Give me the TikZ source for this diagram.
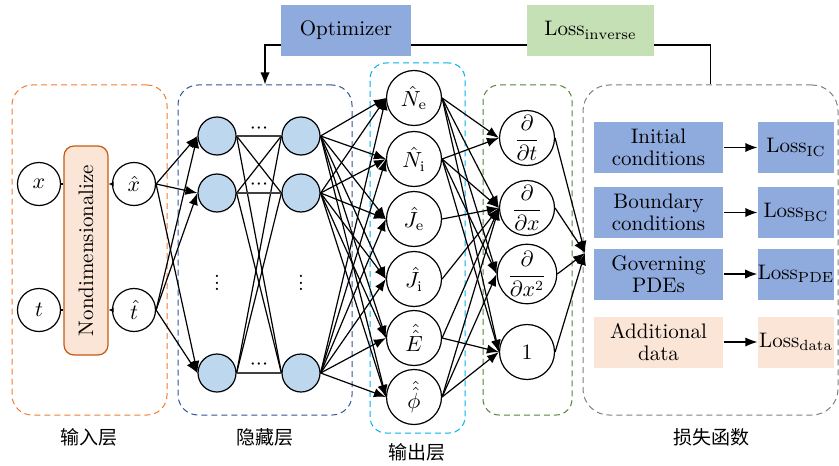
\documentclass[tikz,border=0pt]{standalone}
\usepackage{amsmath}
\usepackage{fontspec}
\newfontfamily\cjk{Noto Sans CJK SC}
\usetikzlibrary{arrows.meta}
\definecolor{orangeD}{HTML}{ED7D31}
\definecolor{blueD}{HTML}{2F5597}
\definecolor{cyanD}{HTML}{00B0F0}
\definecolor{greenD}{HTML}{548235}
\definecolor{grayD}{HTML}{808080}
\definecolor{ndfill}{HTML}{FBE5D6}
\definecolor{nddraw}{HTML}{C55A11}
\definecolor{hidfill}{HTML}{BDD7EE}
\definecolor{boxblue}{HTML}{8FAADC}
\definecolor{boxorange}{HTML}{FBE5D6}
\definecolor{boxgreen}{HTML}{C5E0B4}
\newcommand{\myvdots}{\vbox{\baselineskip3.2pt\lineskiplimit0pt\hbox{.}\hbox{.}\hbox{.}}}
\newcommand{\myhdots}{${\cdot}{\cdot}{\cdot}$}
\begin{document}
\begin{tikzpicture}[x=0.5pt,y=-0.5pt,
  font=\fontsize{10.5}{12.5}\selectfont, line width=0.6pt,
  inneuron/.style={circle, draw, inner sep=0pt, minimum size=21.5pt},
  hid/.style={circle, draw, fill=hidfill, inner sep=0pt, minimum size=19pt},
  outn/.style={circle, draw, inner sep=0pt, minimum size=27.5pt},
  region/.style={draw, dash pattern=on 3pt off 2pt, line width=0.5pt, rounded corners=10pt, inner sep=0pt, minimum height=165pt},
  arr/.style={-{Latex[length=6pt,width=4.6pt]}},
  hline/.style={draw=black!75, line width=0.9pt},
  lbox/.style={fill=boxblue, minimum width=64.5pt, minimum height=25.5pt, inner sep=0pt, align=center, font=\fontsize{10.5}{11}\selectfont},
  rbox/.style={fill=boxblue, minimum width=38pt, minimum height=25.5pt, inner sep=0pt},
  topbox/.style={minimum width=65pt, minimum height=25.5pt, inner sep=0pt},
  cjklabel/.style={font=\cjk\fontsize{9.5}{11}\selectfont}
]
\useasboundingbox (0,0) rectangle (839,465);

% regions
\node[region, draw=orangeD, minimum width=77.5pt] (inbox) at (89.5,250) {};
\node[region, draw=blueD, minimum width=87pt] (hidbox) at (265,250) {};
\node[region, draw=cyanD, minimum width=47.5pt, minimum height=185pt, rounded corners=8pt] (outbox) at (417.5,248) {};
\node[region, draw=greenD, minimum width=44.5pt, rounded corners=8pt] (derbox) at (527.5,250) {};
\node[region, draw=grayD, minimum width=127.5pt, rounded corners=13pt] (lossbox) at (710.5,250) {};

% feedback loop
\coordinate (fbR) at (710.5,45);
\coordinate (fbL) at (265,45);
\draw[arr] (lossbox.north) -- (fbR) -- (fbL) -- (hidbox.north);
\node[topbox, fill=boxblue] (opt) at (346,30.5) {Optimizer};
\node[topbox, fill=boxgreen, minimum width=63.5pt] (linv) at (590.5,30.5) {Loss$_{\mathrm{inverse}}$};

% input layer
\node[inneuron] (x) at (39,184) {$x$};
\node[inneuron] (t) at (39,310) {$t$};
\node[draw=nddraw, fill=ndfill, rounded corners=5pt, minimum width=22pt, minimum height=104.5pt, inner sep=0pt] (nd) at (86,250.5) {};
\node[rotate=90] (ndtext) at (nd.center) {Nondimensionalize};
\node[inneuron] (xh) at (134,184) {$\hat{x}$};
\node[inneuron] (th) at (134,310) {$\hat{t}$};
\draw (x.east) -- (x.east -| nd.west);
\draw (t.east) -- (t.east -| nd.west);
\draw[-{Latex[length=2.5pt,width=2.5pt]}] (xh.west) -- (xh.west -| nd.east);
\draw[-{Latex[length=2.5pt,width=2.5pt]}] (th.west) -- (th.west -| nd.east);

% hidden layer
\node[hid] (h11) at (217,136) {};
\node[hid] (h12) at (217,193) {};
\node[hid] (h13) at (217,373) {};
\node[hid] (h21) at (301,136) {};
\node[hid] (h22) at (301,193) {};
\node[hid] (h23) at (301,373) {};
\node[inner sep=0pt] (dd1) at (259,129) {\myhdots};
\node[inner sep=0pt] (dd2) at (259,185) {\myhdots};
\node[inner sep=0pt] (dd3) at (259,365) {\myhdots};
\node[inner sep=0pt] (vd1) at (217,283) {\myvdots};
\node[inner sep=0pt] (vd2) at (301,283) {\myvdots};

% output layer
\node[outn] (ne) at (414,98) {$\hat{N}_{\mathrm{e}}$};
\node[outn] (ni) at (414,159) {$\hat{N}_{\mathrm{i}}$};
\node[outn] (je) at (414,219) {$\hat{J}_{\mathrm{e}}$};
\node[outn] (ji) at (414,279) {$\hat{J}_{\mathrm{i}}$};
\node[outn] (ee) at (414,338) {$\hat{\hat{E}}$};
\node[outn] (ph) at (414,397) {$\hat{\hat{\phi}}$};

% derivative layer
\node[outn] (dt) at (527,138) {$\dfrac{\partial}{\partial t}$};
\node[outn] (dx) at (527,208) {$\dfrac{\partial}{\partial x}$};
\node[outn] (dxx) at (527,274) {$\dfrac{\partial}{\partial x^2}$};
\node[outn] (one) at (527,352) {$1$};
\coordinate (conv) at (585,253);

% connections
\foreach \s in {xh,th}
  \foreach \j in {1,2,3}
    \draw[arr] (\s.east) -- (h1\j.west);
\foreach \i/\j in {1/2,1/3,2/1,2/3,3/1,3/2}
  \draw (h1\i.east) -- (h2\j.west);
\foreach \i in {1,2,3}
  \draw[hline] (h1\i.east) -- (h2\i.west);
\foreach \i in {1,2,3}
  \foreach \o in {ne,ni,je,ji,ee,ph}
    \draw[arr] (h2\i.east) -- (\o.west);
\foreach \a/\b in {ne/dt,ne/dx,ne/dxx,ne/one,ni/dt,ni/dx,ni/dxx,ni/one,je/dx,ji/dx,ee/dx,ee/one,ph/dx,ph/dxx,ph/one}
  \draw[arr] (\a.east) -- (\b.west);
\foreach \d in {dt,dx,dxx,one}
  \draw[arr] (\d.east) -- (conv);

% loss function
\node[lbox] (ic) at (658.5,147.5) {Initial\\conditions};
\node[lbox] (bc) at (658.5,212.5) {Boundary\\conditions};
\node[lbox] (pde) at (658.5,274) {Governing\\PDEs};
\node[lbox, fill=boxorange] (ad) at (658.5,342) {Additional\\data};
\node[rbox] (lic) at (796,147.5) {Loss$_{\mathrm{IC}}$};
\node[rbox] (lbc) at (796,212.5) {Loss$_{\mathrm{BC}}$};
\node[rbox] (lpde) at (796,274) {Loss$_{\mathrm{PDE}}$};
\node[rbox, fill=boxorange] (ldata) at (796,342) {Loss$_{\mathrm{data}}$};
\draw[arr] (ic.east) -- (lic.west);
\draw[arr] (bc.east) -- (lbc.west);
\draw[arr] (pde.east) -- (lpde.west);
\draw[arr] (ad.east) -- (ldata.west);

% labels
\node[cjklabel] (l1) at (89,437) {输入层};
\node[cjklabel] (l2) at (265,437) {隐藏层};
\node[cjklabel] (l3) at (417,452) {输出层};
\node[cjklabel] (l4) at (711,437) {损失函数};
\end{tikzpicture}
\end{document}
